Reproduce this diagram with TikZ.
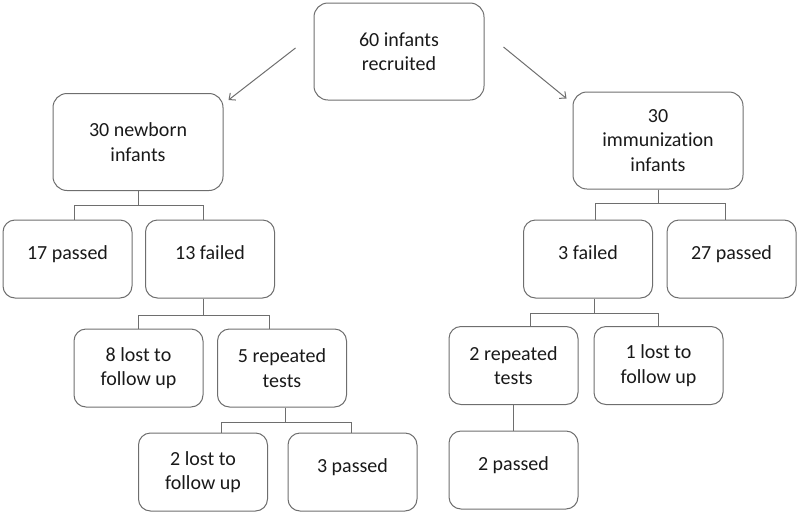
\documentclass[tikz,border=0pt]{standalone}
\usepackage{fontspec}
\setmainfont{Carlito}[Ligatures=CommonOff]
\usetikzlibrary{positioning,arrows.meta}
\definecolor{gris}{RGB}{110,110,110}
\definecolor{texto}{RGB}{25,25,25}

\tikzset{
  estilo flujo/.style={
      x=1pt, y=1pt,
      caja/.style={draw=gris, line width=1pt, rounded corners=14pt, minimum width=170pt, minimum height=97pt, align=center, inner sep=2pt},
      hoja/.style={caja, minimum width=129pt, minimum height=78pt, rounded corners=12pt},
      una/.style={text height=14pt, text depth=14pt},
      rama/.style={draw=gris, line width=1pt},
      flecha/.style={-{Straight Barb[length=5pt,width=9pt]}, draw=gris, line width=1pt},
      every node/.style={font={\fontsize{20}{24.5}\selectfont}, text=texto},
    },
}

\begin{document}
\begin{tikzpicture}[estilo flujo]
            \useasboundingbox (0,0) rectangle (798,-517);
            \node[caja] (rec) at (399,-51.5) {60 infants\\recruited};
            \node[caja] (nb) at (138,-142) {30 newborn\\infants};
            \node[caja] (im) at (658,-140.5) {30\\immunization\\infants};

            \node[hoja, una] (p17) at (67.5,-259) {17 passed};
            \node[hoja, una, right of=p17, node distance=142.5pt] (f13) {13 failed};
            \node[hoja, una] (f3) at (588,-259) {3 failed};
            \node[hoja, una, right of=f3, node distance=143.5pt] (p27) {27 passed};
            \node[hoja] (l8) at (138.5,-368) {8 lost to\\follow up};
            \node[hoja, right of=l8, node distance=143.5pt] (r5) {5 repeated\\tests};
            \node[hoja] (r2) at (513.5,-365.5) {2 repeated\\tests};
            \node[hoja, right of=r2, node distance=145pt] (l1) {1 lost to\\follow up};
            \node[hoja] (l2) at (203,-472) {2 lost to\\follow up};
            \node[hoja, una, right of=l2, node distance=149.5pt] (p3) {3 passed};
            \node[hoja, una] (p2) at (513.5,-470) {2 passed};

            \draw[flecha] ([shift={(-18pt,3.5pt)}]rec.west) -- ([shift={(5pt,-7pt)}]nb.north east);
            \draw[flecha] ([shift={(19pt,4.5pt)}]rec.east) -- ([shift={(-6pt,-7pt)}]im.north west);

            \draw[rama] (nb.south) -- ++(0,-14) -| ([xshift=6.5pt]p17.north);
            \draw[rama] (nb.south) -- ++(0,-14) -| ([xshift=-7pt]f13.north);
            \draw[rama] (im.south) -- ++(0,-14) -| ([xshift=7pt]f3.north);
            \draw[rama] (im.south) -- ++(0,-14) -| ([xshift=-6.5pt]p27.north);
            \draw[rama] ([xshift=-7pt]f13.south) -- ++(0,-17) -| (l8.north);
            \draw[rama] ([xshift=-7pt]f13.south) -- ++(0,-17) -| ([xshift=-13pt]r5.north);
            \draw[rama] ([xshift=6pt]f3.south) -- ++(0,-15) -| ([xshift=16.5pt]r2.north);
            \draw[rama] ([xshift=6pt]f3.south) -- ++(0,-15) -| (l1.north);
            \draw[rama] ([xshift=3pt]r5.south) -- ++(0,-15) -| ([xshift=18pt]l2.north);
            \draw[rama] ([xshift=3pt]r5.south) -- ++(0,-15) -| ([xshift=-1.5pt]p3.north);
            \draw[rama] (r2.south) -- (p2.north);
          \end{tikzpicture}
\end{document}
